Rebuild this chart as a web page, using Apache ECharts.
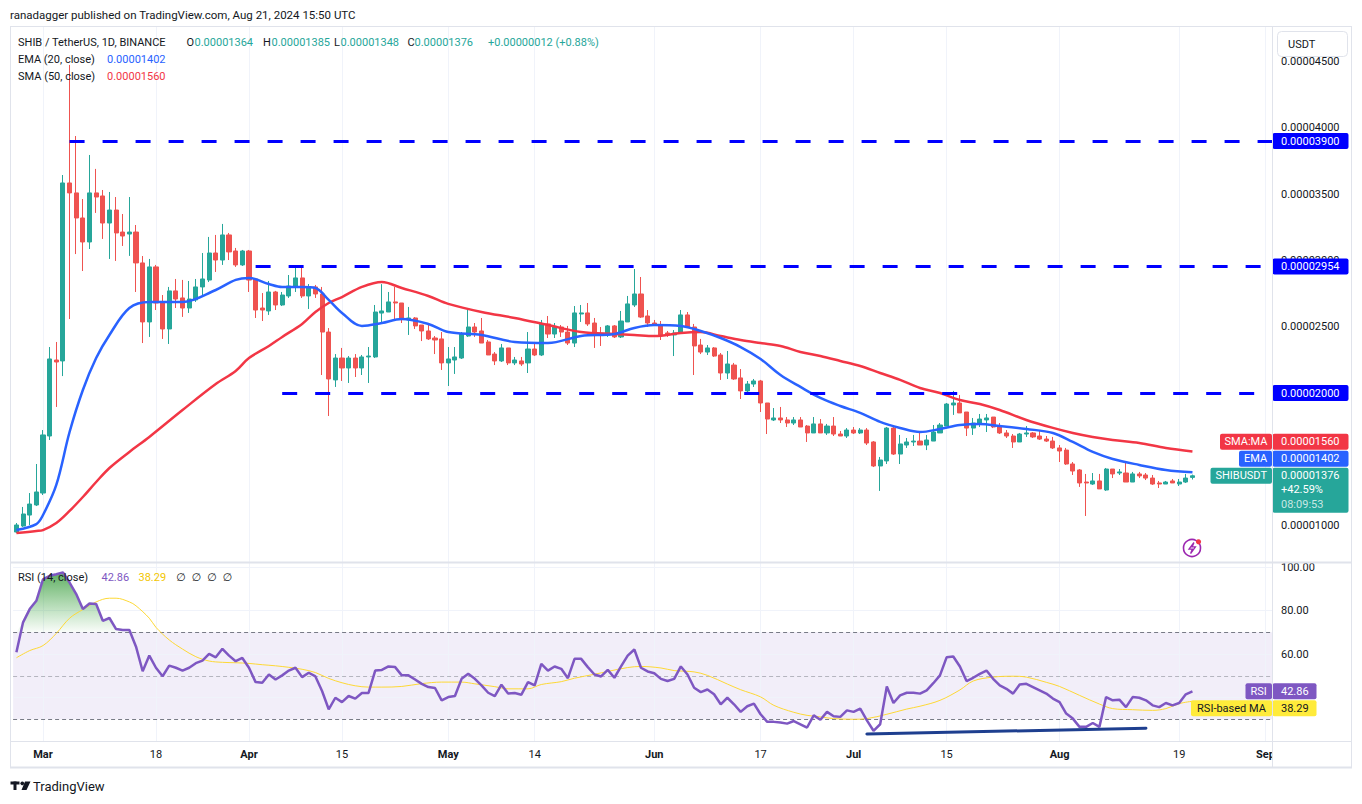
<!DOCTYPE html>
<html>
<head>
<meta charset="utf-8">
<title>SHIB / TetherUS, 1D, BINANCE</title>
<script src="https://cdn.jsdelivr.net/npm/echarts@6.0.0/dist/echarts.min.js"></script>
<style>
html,body{margin:0;padding:0;background:#ffffff;}
#chart{width:1362px;height:804px;}
</style>
</head>
<body>
<div id="chart"></div>
<script>
// ---------------- DATA (prices in units of 1e-8 USDT) ----------------
const UNIT = 1e-8;
const dayCount = 190; // daily categories 2024-02-26 .. 2024-09-02
function dateStr(i) { return new Date(Date.UTC(2024, 1, 26 + i)).toISOString().slice(0, 10); }
const categories = Array.from({ length: dayCount }, (_, i) => dateStr(i));

const opens = [
952,997,1080,1156,1246,1676,2249,2242,3584,3509,
3320,3139,3509,3486,3282,3380,3214,3199,3214,2981,
2536,2951,2679,2483,2770,2717,2641,2702,2800,2852,
3056,3003,3192,3071,2966,3071,2860,2641,2619,2762,
2664,2732,2800,2868,2732,2800,2747,2460,2099,2264,
2189,2264,2189,2272,2272,2603,2611,2687,2679,2551,
2566,2513,2468,2415,2408,2227,2249,2264,2430,2498,
2468,2385,2294,2242,2340,2227,2242,2227,2332,2287,
2521,2445,2498,2460,2377,2596,2604,2528,2445,2438,
2506,2423,2536,2664,2747,2581,2528,2513,2453,2438,
2453,2589,2498,2362,2309,2340,2287,2151,2211,2114,
2016,2068,2091,1925,1797,1812,1797,1774,1797,1751,
1699,1767,1699,1751,1691,1676,1721,1699,1721,1631,
1450,1488,1736,1540,1608,1631,1638,1608,1638,1699,
1751,1910,1925,1857,1736,1767,1797,1819,1751,1699,
1676,1631,1691,1699,1676,1653,1638,1586,1570,1465,
1420,1329,1314,1337,1269,1427,1397,1397,1329,1390,
1382,1359,1322,1314,1337,1314,1329,1364
];
const highs = [
1020,1141,1246,1465,1721,2347,2385,3644,4474,3938,
3463,3795,3690,3531,3516,3478,3350,3478,3267,3033,
3011,2966,2739,2800,2860,2853,2845,2860,3056,3177,
3192,3275,3207,3094,3079,3079,2868,2754,2845,2770,
2762,2890,2943,2951,2822,2815,2800,2490,2294,2340,
2279,2294,2287,2347,2664,2821,2762,2800,2679,2649,
2573,2513,2513,2430,2460,2347,2347,2460,2634,2528,
2566,2400,2309,2370,2340,2272,2272,2460,2377,2551,
2581,2528,2513,2506,2656,2664,2679,2566,2498,2513,
2513,2619,2732,2935,2875,2626,2551,2543,2468,2475,
2626,2611,2521,2408,2362,2347,2302,2317,2227,2181,
2091,2106,2099,1925,1887,1895,1819,1819,1819,1759,
1819,1804,1767,1819,1714,1736,1744,1736,1736,1638,
1518,1744,1744,1684,1661,1684,1699,1684,1759,1774,
1925,2016,1985,1857,1812,1842,1842,1819,1774,1721,
1691,1699,1751,1706,1721,1676,1669,1608,1586,1480,
1427,1390,1397,1390,1435,1427,1427,1473,1405,1405,
1397,1382,1337,1337,1352,1352,1390,1385
];
const lows = [
944,990,1005,1148,1231,1646,1895,2128,2558,3048,
2920,3086,3358,3162,3011,2996,3109,3034,2762,2377,
2423,2626,2408,2370,2641,2574,2604,2687,2739,2837,
2913,2966,3003,2951,2958,2762,2566,2543,2589,2626,
2656,2717,2762,2717,2634,2717,2136,1827,2046,2091,
2076,2121,2136,2076,2264,2535,2611,2551,2528,2438,
2483,2392,2400,2294,2174,2053,2144,2257,2423,2423,
2377,2287,2211,2234,2211,2211,2204,2151,2279,2279,
2415,2415,2423,2362,2347,2536,2506,2340,2355,2423,
2415,2415,2536,2649,2566,2498,2513,2400,2423,2279,
2445,2498,2136,2294,2287,2272,2099,2106,2099,1955,
2001,2046,1857,1691,1789,1774,1744,1759,1744,1631,
1699,1699,1684,1676,1676,1661,1691,1691,1608,1442,
1262,1465,1533,1465,1586,1601,1608,1570,1638,1699,
1751,1835,1850,1676,1684,1744,1706,1736,1691,1661,
1586,1631,1669,1661,1646,1631,1578,1480,1458,1382,
1292,1073,1307,1277,1262,1359,1382,1329,1329,1359,
1344,1307,1284,1314,1322,1299,1322,1348
];
const closes = [
1005,1088,1163,1254,1684,2257,2234,3584,3509,3320,
3139,3509,3478,3282,3380,3207,3184,3214,2981,2536,
2951,2679,2483,2770,2709,2641,2709,2800,2860,3056,
3003,3192,3064,2966,3071,2852,2626,2626,2762,2664,
2739,2807,2868,2732,2800,2747,2460,2106,2264,2189,
2264,2189,2272,2279,2611,2619,2687,2679,2558,2566,
2506,2468,2408,2400,2227,2257,2272,2445,2498,2460,
2377,2287,2242,2340,2227,2249,2219,2332,2287,2521,
2445,2498,2460,2377,2604,2604,2521,2445,2438,2506,
2423,2543,2672,2747,2573,2528,2513,2438,2438,2453,
2589,2498,2355,2309,2340,2279,2151,2219,2106,2016,
2068,2091,1925,1804,1812,1797,1774,1797,1744,1699,
1767,1699,1751,1691,1676,1721,1699,1721,1623,1450,
1495,1736,1540,1616,1631,1638,1608,1646,1706,1759,
1917,1925,1850,1736,1774,1804,1812,1744,1699,1676,
1631,1691,1699,1669,1653,1638,1586,1563,1465,1412,
1322,1322,1337,1277,1427,1390,1405,1329,1390,1375,
1359,1314,1314,1329,1322,1329,1359,1376
];

const emaPoints = [
['2024-02-26',967],['2024-02-29',1012],['2024-03-01',1080],['2024-03-03',1307],['2024-03-05',1706],
['2024-03-07',2023],['2024-03-09',2264],['2024-03-11',2438],['2024-03-14',2641],['2024-03-17',2687],
['2024-03-22',2687],['2024-03-27',2777],['2024-03-30',2853],['2024-04-01',2868],['2024-04-04',2822],
['2024-04-06',2800],['2024-04-09',2800],['2024-04-11',2792],['2024-04-13',2702],['2024-04-15',2604],
['2024-04-18',2506],['2024-04-21',2528],['2024-04-24',2558],['2024-04-28',2521],['2024-05-01',2460],
['2024-05-06',2438],['2024-05-11',2385],['2024-05-16',2377],['2024-05-21',2430],['2024-05-26',2445],
['2024-05-29',2491],['2024-06-01',2513],['2024-06-05',2506],['2024-06-08',2468],['2024-06-11',2415],
['2024-06-14',2347],['2024-06-17',2257],['2024-06-20',2136],['2024-06-23',2046],['2024-06-26',1963],
['2024-06-29',1902],['2024-07-02',1850],['2024-07-05',1782],['2024-07-08',1737],['2024-07-11',1706],
['2024-07-14',1729],['2024-07-17',1759],['2024-07-20',1767],['2024-07-23',1752],['2024-07-27',1729],
['2024-07-31',1699],['2024-08-03',1631],['2024-08-06',1556],['2024-08-09',1503],['2024-08-13',1458],
['2024-08-17',1420],['2024-08-21',1402]
];
const smaPoints = [
['2024-02-26',945],['2024-02-29',960],['2024-03-01',967],['2024-03-03',1020],['2024-03-05',1111],
['2024-03-07',1216],['2024-03-09',1329],['2024-03-11',1435],['2024-03-14',1556],['2024-03-17',1669],
['2024-03-22',1872],['2024-03-27',2068],['2024-03-30',2166],['2024-04-01',2264],['2024-04-04',2355],
['2024-04-06',2423],['2024-04-09',2521],['2024-04-11',2611],['2024-04-13',2679],['2024-04-15',2724],
['2024-04-18',2800],['2024-04-21',2837],['2024-04-24',2792],['2024-04-28',2732],['2024-05-01',2672],
['2024-05-06',2611],['2024-05-11',2566],['2024-05-16',2513],['2024-05-21',2460],['2024-05-26',2445],
['2024-05-29',2438],['2024-06-01',2430],['2024-06-05',2453],['2024-06-08',2460],['2024-06-11',2430],
['2024-06-14',2400],['2024-06-17',2377],['2024-06-20',2355],['2024-06-23',2310],['2024-06-26',2279],
['2024-06-29',2242],['2024-07-02',2204],['2024-07-05',2151],['2024-07-08',2099],['2024-07-11',2038],
['2024-07-14',2000],['2024-07-17',1948],['2024-07-20',1917],['2024-07-23',1872],['2024-07-27',1797],
['2024-07-31',1737],['2024-08-03',1699],['2024-08-06',1669],['2024-08-09',1646],['2024-08-13',1623],
['2024-08-17',1586],['2024-08-21',1560]
];

// RSI(14) daily values from 2024-02-26
const rsiValues = [
60.8,74.6,80.7,84.5,94.4,96.0,96.7,97.5,92.9,87.6,
80.7,83.3,83.0,75.3,76.6,71.5,71.1,71.1,63.4,52.1,
59.3,53.7,49.8,54.7,53.7,52.4,53.7,55.8,57.0,60.1,
58.5,62.4,59.3,56.7,58.2,53.7,47.1,46.8,50.6,48.3,
50.2,52.4,53.7,49.4,51.4,49.7,43.0,34.6,39.9,37.9,
40.7,39.5,42.1,42.1,52.4,52.7,54.3,54.0,50.2,50.2,
48.3,46.3,44.8,44.4,38.7,40.2,40.7,48.6,50.9,48.6,
45.6,42.2,40.7,45.9,41.8,42.1,41.3,47.1,45.6,55.5,
52.4,54.3,53.2,48.9,57.8,57.8,54.0,50.6,49.7,52.7,
49.1,54.3,59.3,62.1,53.7,52.0,51.2,48.6,47.6,48.6,
54.3,50.6,44.5,42.5,43.7,41.5,36.9,39.9,36.9,33.4,
36.0,37.2,32.3,28.8,28.8,28.5,28.0,29.2,27.7,26.2,
31.8,29.8,33.4,31.4,31.1,34.1,33.4,34.9,29.5,24.7,
27.7,45.1,37.5,41.0,42.2,42.2,41.8,43.3,46.6,50.2,
58.5,58.9,54.3,47.6,49.1,50.9,52.4,48.6,45.6,44.0,
41.8,46.0,46.3,44.8,43.3,41.8,39.5,37.9,32.6,30.3,
26.5,26.5,28.3,26.5,40.2,38.7,39.0,35.6,40.2,39.9,
38.7,36.4,35.6,37.5,36.4,37.5,41.5,42.86
];
const rsiMaPoints = [
['2024-02-26',58.3],['2024-02-28',61.6],['2024-03-01',63.9],['2024-03-03',69.5],['2024-03-05',76.5],
['2024-03-07',80.5],['2024-03-09',84.0],['2024-03-11',85.7],['2024-03-12',85.7],['2024-03-14',84.0],
['2024-03-15',82.2],['2024-03-17',76.5],['2024-03-18',72.3],['2024-03-20',66.5],['2024-03-22',62.3],
['2024-03-24',58.8],['2024-03-26',56.8],['2024-03-28',56.2],['2024-03-30',56.0],['2024-04-01',55.7],
['2024-04-03',55.1],['2024-04-05',54.6],['2024-04-07',53.9],['2024-04-09',53.0],['2024-04-11',51.5],
['2024-04-13',48.8],['2024-04-15',46.8],['2024-04-17',45.4],['2024-04-19',44.8],['2024-04-21',44.8],
['2024-04-24',45.1],['2024-04-27',46.4],['2024-04-30',47.1],['2024-05-03',47.1],['2024-05-05',46.3],
['2024-05-08',45.0],['2024-05-10',44.0],['2024-05-13',44.0],['2024-05-15',46.0],['2024-05-18',47.3],
['2024-05-20',48.9],['2024-05-23',50.7],['2024-05-25',52.0],['2024-05-28',53.8],['2024-05-30',54.3],
['2024-06-02',53.6],['2024-06-04',52.4],['2024-06-07',51.8],['2024-06-09',50.2],['2024-06-12',46.2],
['2024-06-14',43.6],['2024-06-17',40.3],['2024-06-19',36.4],['2024-06-22',33.2],['2024-06-24',31.8],
['2024-06-26',31.1],['2024-06-28',30.3],['2024-07-01',30.0],['2024-07-03',30.3],['2024-07-06',32.3],
['2024-07-09',34.7],['2024-07-11',36.0],['2024-07-14',38.7],['2024-07-17',43.5],['2024-07-19',47.6],
['2024-07-22',49.4],['2024-07-25',49.8],['2024-07-27',49.4],['2024-07-30',47.0],['2024-08-01',45.1],
['2024-08-04',41.0],['2024-08-07',37.0],['2024-08-09',34.9],['2024-08-12',34.4],['2024-08-15',34.1],
['2024-08-17',34.9],['2024-08-19',37.2],['2024-08-21',38.29]
];

// horizontal levels drawn by the author
const levelValues = [3900, 2954, 2000];
const levelStarts = ['2024-03-05', '2024-04-02', '2024-04-06'];
// RSI trendline
const trendStart = ['2024-07-03', 23.2];
const trendEnd = ['2024-08-14', 25.9];

// ticks
const priceTicks = [1000, 1500, 2000, 2500, 3000, 3500, 4000, 4500];
const rsiGridTicks = [100, 80, 60, 40];
const rsiLabelTicks = [100, 80, 60];
const labelDates = ['2024-03-01','2024-03-18','2024-04-01','2024-04-15','2024-05-01','2024-05-14','2024-06-01','2024-06-17','2024-07-01','2024-07-15','2024-08-01','2024-08-19','2024-09-01'];
const labelTexts = ['Mar','18','Apr','15','May','14','Jun','17','Jul','15','Aug','19','Sep'];
const monthLabels = ['Mar','Apr','May','Jun','Jul','Aug','Sep'];

const lastBar = { o: 1364, h: 1385, l: 1348, c: 1376, chg: 12, chgPct: 0.88, totalPct: 42.59, countdown: '08:09:53' };

// ---------------- CHART ----------------
const FONTFAM = 'Roboto, "DejaVu Sans", sans-serif';
const UP = '#26a69a', DOWN = '#ef5350';
const idx = d => categories.indexOf(d);
const labelMap = {};
labelDates.forEach((d, k) => { labelMap[d] = labelTexts[k]; });

const candleData = opens.map((o, i) => [o * UNIT, closes[i] * UNIT, lows[i] * UNIT, highs[i] * UNIT]);
const toLine = pts => pts.map(([d, v]) => [idx(d), v * UNIT]);
const rsiMaLine = rsiMaPoints.map(([d, v]) => [idx(d), v]);
const obBase = rsiValues.map(() => 70);
const obFill = rsiValues.map(v => Math.max(v - 70, 0));

const GRID_L = 13.1, GRID_R = 86.5;

const option = {
  animation: false,
  backgroundColor: '#ffffff',
  textStyle: { fontFamily: FONTFAM },
  grid: [
    { left: GRID_L, right: GRID_R, top: 27, height: 535 },
    { left: GRID_L, right: GRID_R, top: 563, height: 178 }
  ],
  xAxis: [
    { type: 'category', gridIndex: 0, data: categories, boundaryGap: true,
      axisLine: { show: false }, axisTick: { show: false }, axisLabel: { show: false }, splitLine: { show: false } },
    { type: 'category', gridIndex: 1, data: categories, boundaryGap: true,
      axisLine: { show: false }, axisTick: { show: false }, splitLine: { show: false },
      axisLabel: {
        show: true, margin: 8, color: '#131722', fontSize: 11, fontFamily: FONTFAM,
        interval: (i, v) => labelMap[v] !== undefined,
        formatter: v => { const t = labelMap[v] || ''; return monthLabels.includes(t) ? '{m|' + t + '}' : t; },
        rich: { m: { fontWeight: 'bold', fontSize: 11, color: '#131722', fontFamily: FONTFAM } }
      } }
  ],
  yAxis: [
    { type: 'value', gridIndex: 0, position: 'right', min: 726 * UNIT, max: 4760 * UNIT,
      axisLine: { show: false }, axisTick: { show: false }, axisLabel: { show: false }, splitLine: { show: false } },
    { type: 'value', gridIndex: 1, position: 'right', min: 20, max: 101.9,
      axisLine: { show: false }, axisTick: { show: false }, axisLabel: { show: false }, splitLine: { show: false } }
  ],
  series: [
    // price grid helper (invisible line, carries grid lines)
    { name: 'priceGrid', type: 'line', xAxisIndex: 0, yAxisIndex: 0, data: closes.map(c => c * UNIT),
      showSymbol: false, silent: true, lineStyle: { opacity: 0 }, z: 1,
      markLine: { z: 1, silent: true, symbol: 'none', label: { show: false }, emphasis: { disabled: true },
        lineStyle: { color: '#f0f3fa', width: 1, type: 'solid' },
        data: priceTicks.map(t => ({ yAxis: t * UNIT })).concat(labelDates.map(d => ({ xAxis: idx(d) }))) } },
    { name: 'SHIBUSDT', type: 'candlestick', xAxisIndex: 0, yAxisIndex: 0, data: candleData, barWidth: 4.6, z: 3,
      itemStyle: { color: UP, color0: DOWN, borderColor: UP, borderColor0: DOWN, borderWidth: 1 },
      markLine: { z: 4, silent: true, symbol: 'none', label: { show: false }, emphasis: { disabled: true },
        lineStyle: { color: UP, width: 1, type: [1.5, 2.5] },
        data: [{ yAxis: lastBar.c * UNIT }] } },
    { name: 'SMA (50, close)', type: 'line', xAxisIndex: 0, yAxisIndex: 0, data: toLine(smaPoints),
      smooth: 0.35, showSymbol: false, z: 4, lineStyle: { color: '#f23645', width: 2.5 } },
    { name: 'EMA (20, close)', type: 'line', xAxisIndex: 0, yAxisIndex: 0, data: toLine(emaPoints),
      smooth: 0.35, showSymbol: false, z: 5, lineStyle: { color: '#2962ff', width: 2.5 } },
    // horizontal author levels
    { name: 'levels', type: 'line', xAxisIndex: 0, yAxisIndex: 0, data: closes.map(c => c * UNIT),
      showSymbol: false, silent: true, lineStyle: { opacity: 0 }, z: 6,
      markLine: { z: 6, silent: true, symbol: 'none', label: { show: false }, emphasis: { disabled: true },
        lineStyle: { color: '#0000ff', width: 3, type: [15, 18] },
        data: levelValues.map((v, k) => [{ coord: [idx(levelStarts[k]), v * UNIT] }, { coord: [dayCount - 1, v * UNIT] }]) } },
    // RSI helper: grid lines, band, dashed levels
    { name: 'rsiGrid', type: 'line', xAxisIndex: 1, yAxisIndex: 1, data: rsiValues,
      showSymbol: false, silent: true, lineStyle: { opacity: 0 }, z: 1,
      markArea: { z: 1, silent: true, itemStyle: { color: 'rgba(126,87,194,0.1)' }, label: { show: false },
        data: [[{ yAxis: 30 }, { yAxis: 70 }]] },
      markLine: { z: 1.5, silent: true, symbol: 'none', label: { show: false }, emphasis: { disabled: true },
        data: rsiGridTicks.map(t => ({ yAxis: t, lineStyle: { color: '#f0f3fa', width: 1, type: 'solid' } }))
          .concat(labelDates.map(d => ({ xAxis: idx(d), lineStyle: { color: '#f0f3fa', width: 1, type: 'solid' } })))
          .concat([
            { yAxis: 70, lineStyle: { color: '#787b86', width: 1, type: [4, 3] } },
            { yAxis: 50, lineStyle: { color: 'rgba(120,123,134,0.5)', width: 1, type: [4, 3] } },
            { yAxis: 30, lineStyle: { color: '#787b86', width: 1, type: [4, 3] } }
          ]) } },
    // overbought gradient fill (stacked above 70)
    { name: 'obBase', type: 'line', xAxisIndex: 1, yAxisIndex: 1, data: obBase, stack: 'ob',
      showSymbol: false, silent: true, lineStyle: { opacity: 0 }, z: 2 },
    { name: 'obFill', type: 'line', xAxisIndex: 1, yAxisIndex: 1, data: obFill, stack: 'ob',
      showSymbol: false, silent: true, lineStyle: { width: 0, opacity: 0 }, z: 2,
      areaStyle: { opacity: 1, color: { type: 'linear', x: 0, y: 0, x2: 0, y2: 1,
        colorStops: [{ offset: 0, color: 'rgba(67,160,71,0.85)' }, { offset: 1, color: 'rgba(76,175,80,0.03)' }] } } },
    { name: 'RSI-based MA', type: 'line', xAxisIndex: 1, yAxisIndex: 1, data: rsiMaLine,
      smooth: 0.35, showSymbol: false, z: 3, lineStyle: { color: '#fdd835', width: 1 } },
    { name: 'RSI', type: 'line', xAxisIndex: 1, yAxisIndex: 1, data: rsiValues,
      showSymbol: false, z: 4, lineStyle: { color: '#7e57c2', width: 2.5 },
      markLine: { z: 5, silent: true, symbol: 'none', label: { show: false }, emphasis: { disabled: true },
        lineStyle: { color: '#1e3f8f', width: 3, type: 'solid', cap: 'round' },
        data: [[{ coord: [idx(trendStart[0]), trendStart[1]] }, { coord: [idx(trendEnd[0]), trendEnd[1]] }]] } }
  ]
};

const chart = echarts.init(document.getElementById('chart'), null, { renderer: 'svg' });
chart.setOption(option);

// ---------------- OVERLAY TEXT / LABELS (positioned through the axes) ----------------
const yP = v => chart.convertToPixel({ yAxisIndex: 0 }, v * UNIT);
const yR = v => chart.convertToPixel({ yAxisIndex: 1 }, v);
const F11 = '11px ' + FONTFAM;
const g = [];
function rect(x, y, w, h, fill, z, extra) {
  extra = extra || {};
  g.push({ type: 'rect', silent: true, z: z, shape: { x: x, y: y, width: w, height: h, r: extra.r || 0 },
    style: { fill: fill, stroke: extra.stroke || null, lineWidth: extra.lw || 0 } });
}
function text(x, y, str, fill, opts) {
  opts = opts || {};
  const al = opts.align || 'left';
  g.push({ type: 'text', silent: true, z: opts.z || 120, x: x, y: y,
    style: { text: str, fill: fill, font: opts.font || F11, align: al, verticalAlign: 'middle',
      textAlign: al, textVerticalAlign: 'middle' } });
}
function line(x1, y1, x2, y2, color, w, z) {
  g.push({ type: 'line', silent: true, z: z || 90, shape: { x1: x1, y1: y1, x2: x2, y2: y2 },
    style: { stroke: color, lineWidth: w || 1 } });
}
const fmtP = v => (v * UNIT).toFixed(8);

// mask for price-axis column and outer area
rect(1272.5, 27, 80, 741, '#ffffff', 50);
rect(0, 0, 10, 804, '#ffffff', 50);
// borders and separators
const BORDER = '#e0e3eb';
line(10, 26.5, 1352, 26.5, BORDER, 1, 95);
line(10, 767.5, 1352, 767.5, BORDER, 2, 95);
line(10.5, 26.5, 10.5, 768, BORDER, 1, 95);
line(1351.5, 26.5, 1351.5, 768, BORDER, 1, 95);
line(1272.5, 26.5, 1272.5, 768, BORDER, 1, 95);
line(10, 562.5, 1352, 562.5, BORDER, 2, 95);
line(10, 741.5, 1352, 741.5, BORDER, 1, 95);

// price tick labels
priceTicks.forEach(t => text(1281, yP(t), fmtP(t), '#131722', { z: 60 }));
// RSI tick labels
rsiLabelTicks.forEach(t => text(1281, yR(t), t.toFixed(2), '#131722', { z: 60 }));

// USDT unit box
rect(1277.5, 31.5, 70, 25, '#ffffff', 70, { r: 4, stroke: '#e0e3eb', lw: 1 });
text(1288, 44, 'USDT', '#131722', { z: 71 });

// level value boxes
levelValues.forEach(v => {
  const y = yP(v);
  rect(1272.5, y - 8, 76, 16, '#0000ff', 80, { r: 2 });
  text(1281, y, fmtP(v), '#ffffff', { z: 81 });
});

// SHIB / EMA / SMA stacked labels
const yS = yP(lastBar.c);
const yE = yS - 17, yM = yE - 17;
const emaLast = emaPoints[emaPoints.length - 1][1];
const smaLast = smaPoints[smaPoints.length - 1][1];
rect(1210.5, yS - 8, 61.5, 16, UP, 80, { r: 2 });
text(1241.2, yS, 'SHIBUSDT', '#ffffff', { z: 81, align: 'center' });
rect(1272.5, yS - 8, 76, 45, UP, 80, { r: 2 });
text(1281, yS, fmtP(lastBar.c), '#ffffff', { z: 81 });
text(1281, yS + 14, '+' + lastBar.totalPct.toFixed(2) + '%', '#ffffff', { z: 81 });
text(1281, yS + 29, lastBar.countdown, 'rgba(255,255,255,0.75)', { z: 81 });
rect(1239, yE - 8, 33, 16, '#2962ff', 80, { r: 2 });
text(1255.5, yE, 'EMA', '#ffffff', { z: 81, align: 'center' });
rect(1272.5, yE - 8, 76, 16, '#2962ff', 80, { r: 2 });
text(1281, yE, fmtP(emaLast), '#ffffff', { z: 81 });
rect(1220, yM - 8, 52, 16, '#f23645', 80, { r: 2 });
text(1246, yM, 'SMA:MA', '#ffffff', { z: 81, align: 'center' });
rect(1272.5, yM - 8, 76, 16, '#f23645', 80, { r: 2 });
text(1281, yM, fmtP(smaLast), '#ffffff', { z: 81 });

// RSI labels
const rsiLast = rsiValues[rsiValues.length - 1];
const maLast = rsiMaPoints[rsiMaPoints.length - 1][1];
const yRs = yR(rsiLast), yMa = yRs + 17;
rect(1245.5, yRs - 8, 26.5, 16, '#7e57c2', 80, { r: 2 });
text(1258.7, yRs, 'RSI', '#ffffff', { z: 81, align: 'center' });
rect(1272.5, yRs - 8, 44, 16, '#7e57c2', 80, { r: 2 });
text(1281, yRs, rsiLast.toFixed(2), '#ffffff', { z: 81 });
rect(1191, yMa - 8, 81, 16, '#ffeb3b', 80, { r: 2 });
text(1231.5, yMa, 'RSI-based MA', '#131722', { z: 81, align: 'center' });
rect(1272.5, yMa - 8, 44, 16, '#ffeb3b', 80, { r: 2 });
text(1281, yMa, maLast.toFixed(2), '#131722', { z: 81 });

// header / legends
text(10, 15, 'ranadagger published on TradingView.com, Aug 21, 2024 15:50 UTC', '#131722', { font: '11.5px ' + FONTFAM });
text(18, 42.5, 'SHIB / TetherUS, 1D, BINANCE', '#131722');
text(186.5, 42.5, 'O', '#131722'); text(194.5, 42.5, fmtP(lastBar.o), UP);
text(263, 42.5, 'H', '#131722'); text(271.5, 42.5, fmtP(lastBar.h), UP);
text(334, 42.5, 'L', '#131722'); text(340.5, 42.5, fmtP(lastBar.l), UP);
text(407.5, 42.5, 'C', '#131722'); text(414.5, 42.5, fmtP(lastBar.c), UP);
text(488, 42.5, '+' + fmtP(lastBar.chg) + ' (+' + lastBar.chgPct.toFixed(2) + '%)', UP);
text(18, 59.5, 'EMA (20, close)', '#131722'); text(107, 59.5, fmtP(emaLast), '#2962ff');
text(18, 76, 'SMA (50, close)', '#131722'); text(107, 76, fmtP(smaLast), '#f23645');
text(18, 577.5, 'RSI (14, close)', '#131722');
text(101.5, 577.5, rsiLast.toFixed(2), '#7e57c2');
text(138.5, 577.5, maLast.toFixed(2), '#f2c500');
['∅', '∅', '∅', '∅'].forEach((s, k) => text(176 + k * 15.5, 577.5, s, '#131722'));

// lightning icon
g.push({ type: 'circle', silent: true, z: 100, shape: { cx: 1192, cy: 548, r: 8.5 }, style: { fill: '#ffffff', stroke: '#9c27b0', lineWidth: 1.6 } });
g.push({ type: 'polyline', silent: true, z: 101, shape: { points: [[1194, 542.5], [1189, 549.2], [1192.3, 549.2], [1190.6, 553.6], [1195.4, 546.8], [1192.2, 546.8], [1194, 542.5]] }, style: { fill: 'none', stroke: '#9c27b0', lineWidth: 1.3 } });
g.push({ type: 'circle', silent: true, z: 102, shape: { cx: 1198.5, cy: 541.8, r: 2.6 }, style: { fill: '#f23645' } });

// TradingView logo
rect(10.5, 781.5, 9, 3, '#131722', 100);
rect(13.5, 781.5, 3, 8.5, '#131722', 100);
g.push({ type: 'circle', silent: true, z: 100, shape: { cx: 22.3, cy: 783.3, r: 1.9 }, style: { fill: '#131722' } });
g.push({ type: 'polygon', silent: true, z: 100, shape: { points: [[25, 781.5], [30.5, 781.5], [26.5, 790], [21.5, 790]] }, style: { fill: '#131722' } });
text(33, 786, 'TradingView', '#131722', { font: '13px ' + FONTFAM, z: 100 });

chart.setOption({ graphic: { elements: g } });
</script>
</body>
</html>
